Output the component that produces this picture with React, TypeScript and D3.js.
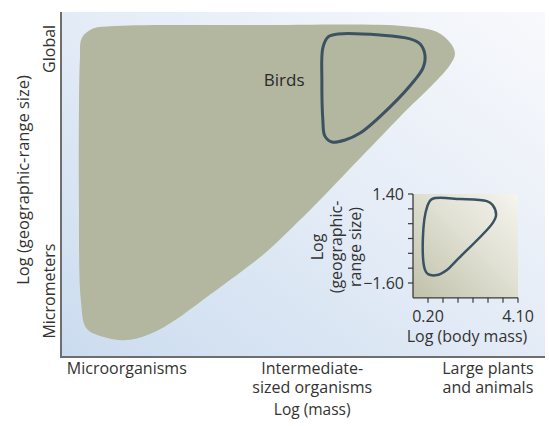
import React, { useEffect, useRef } from 'react';
import * as d3 from 'd3';

// main envelope: [log mass, log range], arbitrary 0-10 units
const envelope: [number, number][] = [
  [0.39, 8.61], [0.43, 9.25], [0.64, 9.51], [1.01, 9.59], [3.9, 9.62], [7.11, 9.59],
  [7.77, 9.42], [8.06, 9.07], [8.14, 8.78], [8.02, 8.43], [7.0, 6.96], [6.28, 5.91],
  [5.35, 4.55], [4.79, 3.77], [4.17, 2.96], [3.49, 2.23], [2.93, 1.65], [2.36, 1.07],
  [1.9, 0.7], [1.36, 0.49], [0.81, 0.61], [0.52, 0.84], [0.41, 1.65], [0.37, 4.55],
  [0.37, 6.87]
];

const birds: [number, number][] = [
  [5.41, 6.87], [5.39, 8.03], [5.41, 8.96], [5.52, 9.28], [5.72, 9.36], [6.59, 9.33],
  [7.21, 9.22], [7.42, 9.07], [7.52, 8.75], [7.48, 8.38], [7.31, 8.03], [6.8, 7.25],
  [6.18, 6.49], [5.87, 6.29], [5.6, 6.23], [5.45, 6.41]
];

// inset: log body mass vs log geographic-range size
const insetBirds: [number, number][] = [
  [0.16, 0.96], [0.37, 1.23], [1.6, 1.23], [2.75, 1.16], [3.0, 1.03], [3.15, 0.69],
  [3.0, 0.42], [1.46, -0.82], [1.02, -1.16], [0.6, -1.33], [0.2, -1.3], [0.07, -1.16],
  [-0.02, -0.05]
];

const massCategories = [
  { pos: 1.36, lines: ['Microorganisms'] },
  { pos: 5.19, lines: ['Intermediate-', 'sized organisms'] },
  { pos: 8.82, lines: ['Large plants', 'and animals'] }
];
const rangeCategories = [
  { pos: 8.93, label: 'Global' },
  { pos: 1.91, label: 'Micrometers' }
];

const insetXTicks = [0.2, 0.85, 1.5, 2.15, 2.8, 3.45, 4.1];
const insetYTicks = [-1.6, -1.1, -0.6, -0.1, 0.4, 0.9, 1.4];
const insetXLabels = ['0.20', '4.10'];
const insetYLabels = ['−1.60', '1.40'];

const FONT = '"Open Sans", sans-serif';
const TEXT = '#333333';

export default function App() {
  const svgRef = useRef<SVGSVGElement>(null);

  useEffect(() => {
    if (!svgRef.current) return;
    const svg = d3.select(svgRef.current);
    svg.selectAll('*').remove();

    const width = 549;
    const height = 426;
    svg.attr('width', width).attr('height', height);

    const defs = svg.append('defs');
    const bg = defs.append('linearGradient').attr('id', 'bgGrad')
      .attr('x1', '0%').attr('y1', '100%').attr('x2', '100%').attr('y2', '0%');
    bg.append('stop').attr('offset', '0%').attr('stop-color', '#cbdcef');
    bg.append('stop').attr('offset', '55%').attr('stop-color', '#e6edf7');
    bg.append('stop').attr('offset', '100%').attr('stop-color', '#f8f9fc');

    const ig = defs.append('linearGradient').attr('id', 'insetGrad')
      .attr('x1', '0%').attr('y1', '100%').attr('x2', '100%').attr('y2', '0%');
    ig.append('stop').attr('offset', '0%').attr('stop-color', '#c0c1a9');
    ig.append('stop').attr('offset', '55%').attr('stop-color', '#e0e0d3');
    ig.append('stop').attr('offset', '100%').attr('stop-color', '#f5f4ee');

    const x = d3.scaleLinear().domain([0, 10]).range([61, 545]);
    const y = d3.scaleLinear().domain([0, 10]).range([357, 12]);

    // plot background
    svg.append('rect')
      .attr('x', x(0)).attr('y', y(10))
      .attr('width', x(10) - x(0)).attr('height', y(0) - y(10))
      .attr('fill', 'url(#bgGrad)');

    const line = d3.line<[number, number]>()
      .x(d => x(d[0])).y(d => y(d[1]))
      .curve(d3.curveCatmullRomClosed.alpha(0.5));

    svg.append('path').datum(envelope).attr('d', line).attr('fill', '#b3b79f');

    svg.append('path').datum(birds).attr('d', line)
      .attr('fill', 'none').attr('stroke', '#3b5262').attr('stroke-width', 3);

    svg.append('text')
      .attr('x', x(4.19)).attr('y', y(7.85))
      .attr('font-family', FONT).attr('font-size', 17).attr('fill', '#2a2a2a')
      .text('Birds');

    // main axes
    svg.append('line')
      .attr('x1', x(0)).attr('x2', x(0)).attr('y1', y(10)).attr('y2', y(0) + 1)
      .attr('stroke', '#6e6e6e').attr('stroke-width', 2);
    svg.append('line')
      .attr('x1', x(0) - 1).attr('x2', x(10)).attr('y1', y(0)).attr('y2', y(0))
      .attr('stroke', '#6e6e6e').attr('stroke-width', 2);

    massCategories.forEach(c => {
      const t = svg.append('text')
        .attr('text-anchor', 'middle')
        .attr('font-family', FONT).attr('font-size', 16).attr('fill', TEXT);
      c.lines.forEach((l, i) => {
        t.append('tspan').attr('x', x(c.pos)).attr('y', 374 + i * 19).text(l);
      });
    });
    svg.append('text')
      .attr('x', x(5.19)).attr('y', 415)
      .attr('text-anchor', 'middle')
      .attr('font-family', FONT).attr('font-size', 15.5).attr('fill', TEXT)
      .text('Log (mass)');

    rangeCategories.forEach(c => {
      svg.append('text')
        .attr('transform', `translate(55,${y(c.pos)}) rotate(-90)`)
        .attr('text-anchor', 'middle')
        .attr('font-family', FONT).attr('font-size', 16).attr('fill', TEXT)
        .text(c.label);
    });
    svg.append('text')
      .attr('transform', `translate(29,${y(5.13)}) rotate(-90)`)
      .attr('text-anchor', 'middle')
      .attr('font-family', FONT).attr('font-size', 16.5).attr('fill', TEXT)
      .text('Log (geographic-range size)');

    // inset
    const ix = d3.scaleLinear().domain([0.2, 4.1]).range([428, 518]);
    const iy = d3.scaleLinear().domain([-1.6, 1.4]).range([283, 194]);
    const x0 = ix(-0.45);
    const y0 = iy(-2.1);

    svg.append('rect')
      .attr('x', x0).attr('y', iy(1.4))
      .attr('width', ix(4.1) - x0).attr('height', y0 - iy(1.4))
      .attr('fill', 'url(#insetGrad)');

    const iline = d3.line<[number, number]>()
      .x(d => ix(d[0])).y(d => iy(d[1]))
      .curve(d3.curveCatmullRomClosed.alpha(0.5));
    svg.append('path').datum(insetBirds).attr('d', iline)
      .attr('fill', 'none').attr('stroke', '#3b5262').attr('stroke-width', 2.5);

    const ax = '#3a3a3a';
    svg.append('line')
      .attr('x1', x0).attr('x2', x0).attr('y1', iy(1.4)).attr('y2', y0)
      .attr('stroke', ax).attr('stroke-width', 1.3);
    svg.append('line')
      .attr('x1', x0).attr('x2', ix(4.1)).attr('y1', y0).attr('y2', y0)
      .attr('stroke', ax).attr('stroke-width', 1.3);
    insetYTicks.forEach(t => {
      svg.append('line')
        .attr('x1', x0 - 5).attr('x2', x0).attr('y1', iy(t)).attr('y2', iy(t))
        .attr('stroke', ax).attr('stroke-width', 1.2);
    });
    insetXTicks.forEach(t => {
      svg.append('line')
        .attr('x1', ix(t)).attr('x2', ix(t)).attr('y1', y0).attr('y2', y0 + 5)
        .attr('stroke', ax).attr('stroke-width', 1.2);
    });
    [-1.6, 1.4].forEach((t, i) => {
      svg.append('text')
        .attr('x', x0 - 9).attr('y', iy(t))
        .attr('dy', '0.36em').attr('text-anchor', 'end')
        .attr('font-family', FONT).attr('font-size', 16).attr('fill', TEXT)
        .text(insetYLabels[i]);
    });
    [0.2, 4.1].forEach((t, i) => {
      svg.append('text')
        .attr('x', ix(t)).attr('y', 322)
        .attr('text-anchor', 'middle')
        .attr('font-family', FONT).attr('font-size', 16).attr('fill', TEXT)
        .text(insetXLabels[i]);
    });
    svg.append('text')
      .attr('x', ix(1.89)).attr('y', 342)
      .attr('text-anchor', 'middle')
      .attr('font-family', FONT).attr('font-size', 16).attr('fill', TEXT)
      .text('Log (body mass)');

    const yLab = svg.append('text')
      .attr('transform', `translate(323,247) rotate(-90)`)
      .attr('text-anchor', 'middle')
      .attr('font-family', FONT).attr('font-size', 16).attr('fill', TEXT);
    ['Log', '(geographic-', 'range size)'].forEach((l, i) => {
      yLab.append('tspan').attr('x', 0).attr('y', i * 19).text(l);
    });
  }, []);

  return (
    <div style={{ position: 'absolute', left: 0, top: 0 }}>
      <svg ref={svgRef} style={{ display: 'block' }}></svg>
    </div>
  );
}
